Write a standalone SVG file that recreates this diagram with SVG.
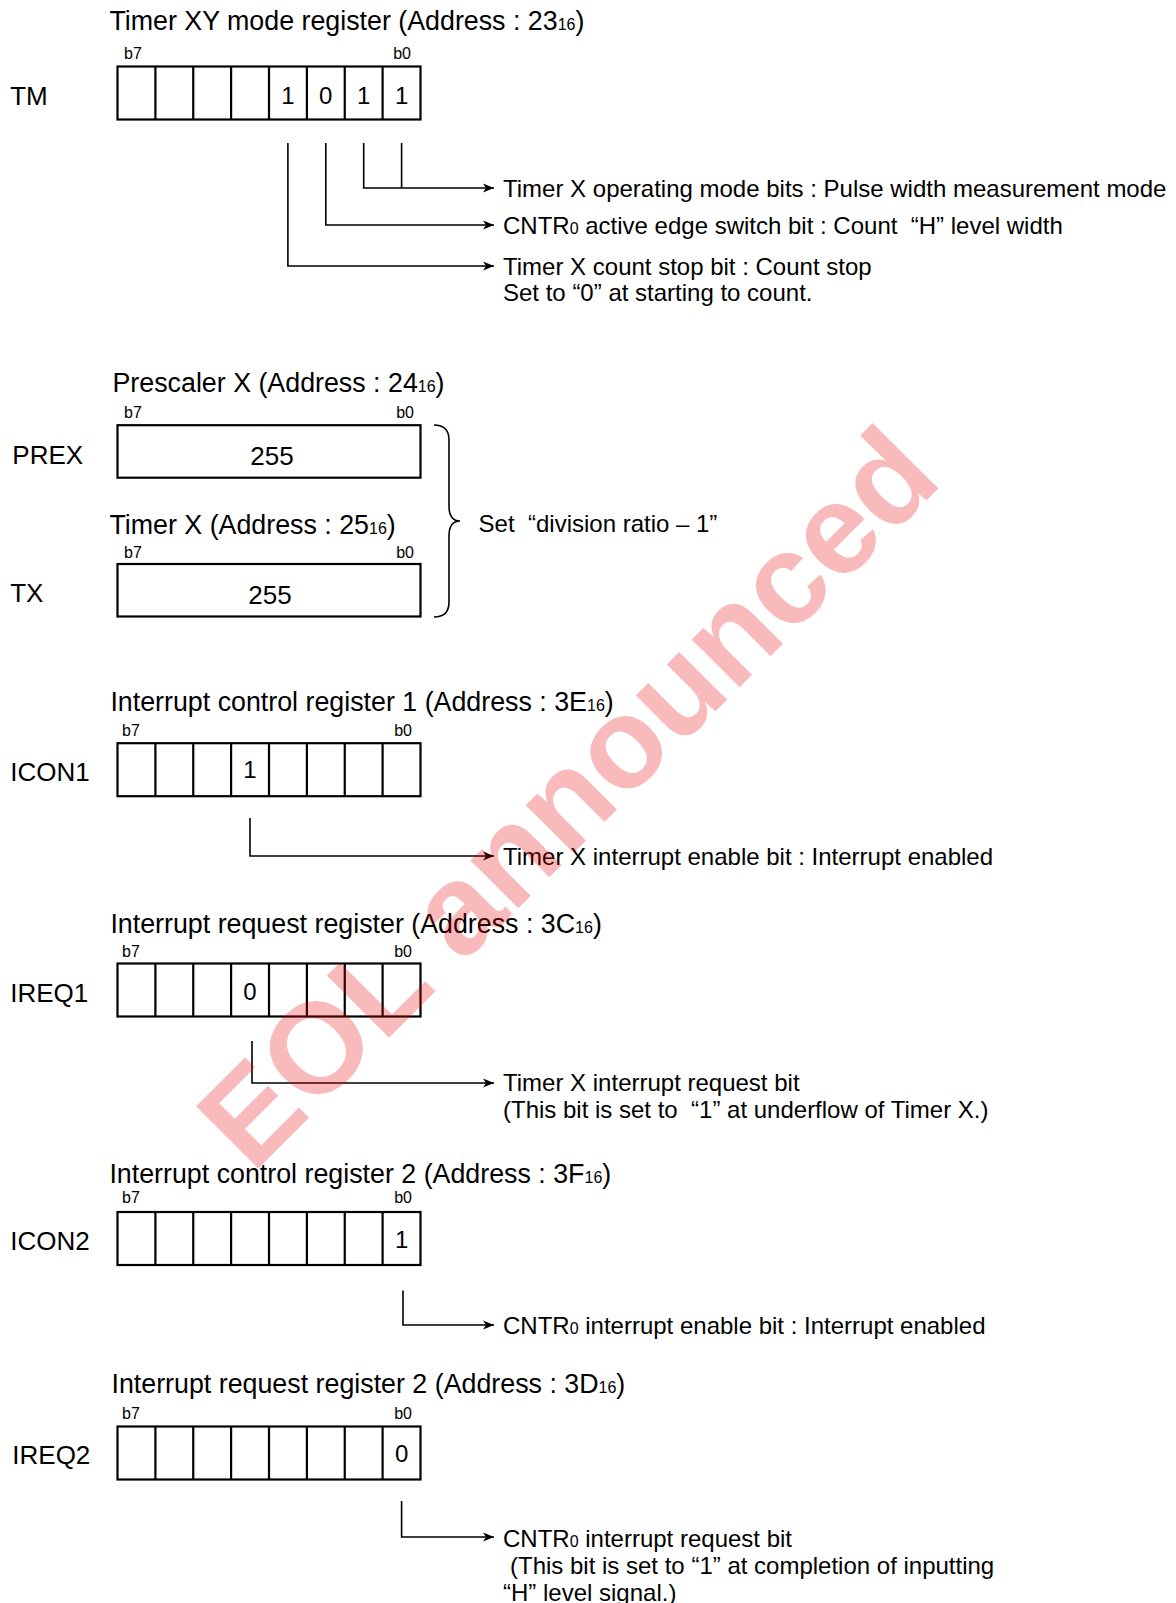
<svg xmlns="http://www.w3.org/2000/svg" xmlns:xlink="http://www.w3.org/1999/xlink" width="1176" height="1603" viewBox="0 0 1176 1603">
<style>
text{font-family:"Liberation Sans",Arial,Helvetica,sans-serif;fill:#000}
.title{font-size:26.8px}
.lbl{font-size:26px}
.bit{font-size:16px}
.dig{font-size:24px;text-anchor:middle}
.val{font-size:26px;text-anchor:middle}
.desc{font-size:24px}
.pre{white-space:pre}
.sub{font-size:16px}
.box{fill:#fff;stroke:#000;stroke-width:2.2}
.div{stroke:#000;stroke-width:2.2}
.con{fill:none;stroke:#000;stroke-width:1.6}
.wm{font-family:"Liberation Sans",Arial,sans-serif;font-weight:bold;font-size:128px;fill:#e60000;fill-opacity:0.27}
</style>
<defs>
<g id="reg8">
<rect class="box" x="117.5" y="0" width="303" height="53"/>
<path class="div" d="M155.4,0V53M193.25,0V53M231.1,0V53M269,0V53M306.9,0V53M344.75,0V53M382.6,0V53"/>
</g>
<g id="reg1">
<rect class="box" x="117.5" y="0" width="303" height="52.5"/>
</g>
<marker id="arr" markerWidth="12" markerHeight="10" refX="11" refY="5" orient="auto" markerUnits="userSpaceOnUse">
<path d="M0,0.5 L11,5 L0,9.5 L3,5 z" fill="#000"/>
</marker>
</defs>

<g id="TM">
<text class="title" x="109.4" y="30">Timer XY mode register (Address : 23<tspan class="sub">16</tspan>)</text>
<text class="bit" x="124" y="59">b7</text>
<text class="bit" x="411" y="59" text-anchor="end">b0</text>
<text class="lbl" x="10.2" y="104.5">TM</text>
<use xlink:href="#reg8" y="66.5"/>
<text class="dig" x="288" y="103.5">1</text>
<text class="dig" x="325.8" y="103.5">0</text>
<text class="dig" x="363.7" y="103.5">1</text>
<text class="dig" x="401.6" y="103.5">1</text>
</g>

<g id="PREX">
<text class="title" x="112.5" y="392">Prescaler X (Address : 24<tspan class="sub">16</tspan>)</text>
<text class="bit" x="124" y="418">b7</text>
<text class="bit" x="414" y="418" text-anchor="end">b0</text>
<text class="lbl" x="12.3" y="463.5">PREX</text>
<use xlink:href="#reg1" y="425.2"/>
<text class="val" x="272" y="465">255</text>
</g>

<g id="TX">
<text class="title" x="109.4" y="534">Timer X (Address : 25<tspan class="sub">16</tspan>)</text>
<text class="bit" x="124" y="558">b7</text>
<text class="bit" x="414" y="558" text-anchor="end">b0</text>
<text class="lbl" x="10.2" y="601.5">TX</text>
<use xlink:href="#reg1" y="564"/>
<text class="val" x="270" y="603.5">255</text>
</g>

<g id="ICON1">
<text class="title" x="110.4" y="711">Interrupt control register 1 (Address : 3E<tspan class="sub">16</tspan>)</text>
<text class="bit" x="122" y="736">b7</text>
<text class="bit" x="412" y="736" text-anchor="end">b0</text>
<text class="lbl" x="10.2" y="780.5">ICON1</text>
<use xlink:href="#reg8" y="743.2"/>
<text class="dig" x="250" y="778">1</text>
</g>

<g id="IREQ1">
<text class="title" x="110.4" y="933">Interrupt request register (Address : 3C<tspan class="sub">16</tspan>)</text>
<text class="bit" x="122" y="957">b7</text>
<text class="bit" x="412" y="957" text-anchor="end">b0</text>
<text class="lbl" x="10.2" y="1001.5">IREQ1</text>
<use xlink:href="#reg8" y="963.5"/>
<text class="dig" x="250" y="999.5">0</text>
</g>

<g id="ICON2">
<text class="title" x="109.4" y="1182.5">Interrupt control register 2 (Address : 3F<tspan class="sub">16</tspan>)</text>
<text class="bit" x="122" y="1203">b7</text>
<text class="bit" x="412" y="1203" text-anchor="end">b0</text>
<text class="lbl" x="10.2" y="1249.5">ICON2</text>
<use xlink:href="#reg8" y="1212"/>
<text class="dig" x="401.6" y="1248">1</text>
</g>

<g id="IREQ2">
<text class="title" x="111.5" y="1393">Interrupt request register 2 (Address : 3D<tspan class="sub">16</tspan>)</text>
<text class="bit" x="122" y="1419">b7</text>
<text class="bit" x="412" y="1419" text-anchor="end">b0</text>
<text class="lbl" x="12.3" y="1463.5">IREQ2</text>
<use xlink:href="#reg8" y="1426.5"/>
<text class="dig" x="401.6" y="1462">0</text>
</g>

<g id="brace">
<path class="con" d="M434,425 Q449,425 449,440 V506 Q449,521 460,521 Q449,521 449,536 V602 Q449,617 434,617"/>
<text class="desc pre" xml:space="preserve" x="478.6" y="532">Set  “division ratio – 1”</text>
</g>

<g id="connectors">
<path class="con" d="M401.6,143V188"/>
<path class="con" d="M363.7,143V188H494" marker-end="url(#arr)"/>
<path class="con" d="M325.8,143V225H494" marker-end="url(#arr)"/>
<path class="con" d="M287.9,143V266H494" marker-end="url(#arr)"/>
<path class="con" d="M250,818V856H494" marker-end="url(#arr)"/>
<path class="con" d="M252,1041V1083H494" marker-end="url(#arr)"/>
<path class="con" d="M403,1290.5V1325H494" marker-end="url(#arr)"/>
<path class="con" d="M401.6,1501V1537H494" marker-end="url(#arr)"/>
</g>

<g id="descriptions">
<text class="desc" x="503" y="196.5">Timer X operating mode bits : Pulse width measurement mode</text>
<text class="desc pre" xml:space="preserve" x="503" y="233.5">CNTR<tspan class="sub">0</tspan> active edge switch bit : Count  “H” level width</text>
<text class="desc" x="503" y="274.5">Timer X count stop bit : Count stop</text>
<text class="desc" x="503" y="301">Set to “0” at starting to count.</text>
<text class="desc" x="503" y="864.5">Timer X interrupt enable bit : Interrupt enabled</text>
<text class="desc" x="503" y="1090.5">Timer X interrupt request bit</text>
<text class="desc pre" xml:space="preserve" x="503" y="1118">(This bit is set to  “1” at underflow of Timer X.)</text>
<text class="desc" x="503" y="1334">CNTR<tspan class="sub">0</tspan> interrupt enable bit : Interrupt enabled</text>
<text class="desc" x="503" y="1546.5">CNTR<tspan class="sub">0</tspan> interrupt request bit</text>
<text class="desc" x="510" y="1574">(This bit is set to “1” at completion of inputting</text>
<text class="desc" x="503" y="1600.5">“H” level signal.)</text>
</g>

<g id="watermark">
<text class="wm" transform="translate(570,800) rotate(-45)" x="0" y="40" text-anchor="middle">EOL announced</text>
</g>
</svg>
